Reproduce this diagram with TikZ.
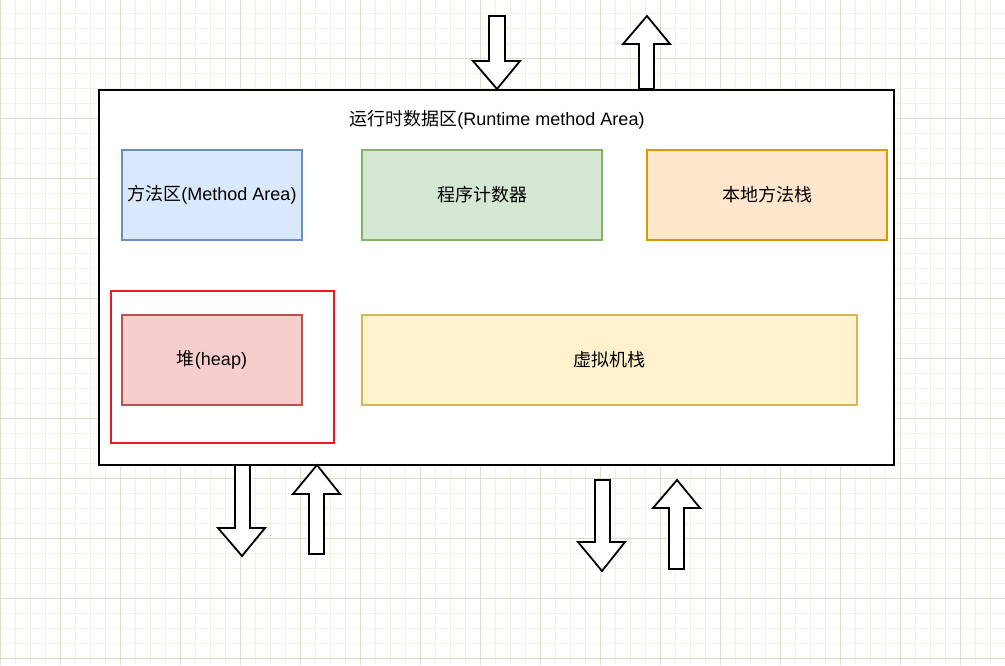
\documentclass[tikz,border=0pt]{standalone}
\usepackage{fontspec}
\setmainfont{Liberation Sans}
\newfontfamily\cjk{Noto Sans CJK SC}
\definecolor{gridminor}{HTML}{F1F1E6}
\definecolor{gridmajor}{HTML}{DCDCC8}
\definecolor{blueF}{HTML}{DAE8FC}\definecolor{blueD}{HTML}{6C8EBF}
\definecolor{greenF}{HTML}{D5E8D4}\definecolor{greenD}{HTML}{82B366}
\definecolor{orangeF}{HTML}{FFE6CC}\definecolor{orangeD}{HTML}{D79B00}
\definecolor{redF}{HTML}{F8CECC}\definecolor{redD}{HTML}{B85450}
\definecolor{yellowF}{HTML}{FFF2CC}\definecolor{yellowD}{HTML}{D6B656}
\definecolor{hl}{HTML}{EF1722}
\begin{document}
\begin{tikzpicture}[x=1pt,y=-1pt,
  minorline/.style={gridminor,line width=1pt},
  majorline/.style={gridmajor,line width=1pt},
  area/.style={draw,line width=1.5pt,minimum width=#1,minimum height=90pt,inner sep=0pt,
    font=\fontsize{18}{22}\selectfont},
  blockarrow/.style={draw=black,fill=white,line width=1.8pt,line join=miter},
  txt/.style={font=\fontsize{18}{22}\selectfont,inner sep=0pt}]
\useasboundingbox (0,0) rectangle (1005,665);
\fill[white] (0,0) rectangle (1005,665);
% grid
\foreach \x in {15,30,...,1005} \draw[minorline] (\x,0) -- (\x,665);
\foreach \y in {13,28,...,665} \draw[minorline] (0,\y) -- (1005,\y);
\foreach \x in {0,60,...,1005} \draw[majorline] (\x,0) -- (\x,665);
\foreach \y in {58,118,...,665} \draw[majorline] (0,\y) -- (1005,\y);
% main container
\node[draw=black,fill=white,line width=1.5pt,minimum width=795pt,minimum height=375pt,inner sep=0pt] (main) at (496.5,277.5) {};
\node[txt] (title) at (497,120) {{\cjk 运行时数据区}(Runtime method Area)};
% boxes
\node[area=180pt,fill=blueF,draw=blueD] (method) at (212,195) {{\cjk 方法区}(Method Area)};
\node[area=240pt,fill=greenF,draw=greenD] (pc) at (482,195) {\cjk 程序计数器};
\node[area=240pt,fill=orangeF,draw=orangeD] (native) at (767,195) {\cjk 本地方法栈};
\node[area=180pt,fill=redF,draw=redD] (heap) at (212,360) {{\cjk 堆}(heap)};
\node[area=495pt,fill=yellowF,draw=yellowD] (vm) at (609.5,360) {\cjk 虚拟机栈};
\node[draw=hl,line width=2.8pt,minimum width=223pt,minimum height=152pt,inner sep=0pt] (hlbox) at (222.5,367) {};
% block arrows (down)
\draw[blockarrow] (489,16) -- (505,16) -- (505,61) -- (520,61) -- (497,89) -- (473,61) -- (489,61) -- cycle;
\draw[blockarrow] (235,465) -- (250,465) -- (250,528) -- (265,528) -- (242,556) -- (218,528) -- (235,528) -- cycle;
\draw[blockarrow] (595,480) -- (610,480) -- (610,542) -- (625,542) -- (602,571) -- (578,542) -- (595,542) -- cycle;
% block arrows (up)
\draw[blockarrow] (647,16) -- (670,44) -- (654,44) -- (654,89) -- (639,89) -- (639,44) -- (623,44) -- cycle;
\draw[blockarrow] (317,465) -- (340,494) -- (324,494) -- (324,554) -- (309,554) -- (309,494) -- (293,494) -- cycle;
\draw[blockarrow] (677,480) -- (700,508) -- (684,508) -- (684,569) -- (669,569) -- (669,508) -- (653,508) -- cycle;
\end{tikzpicture}
\end{document}
